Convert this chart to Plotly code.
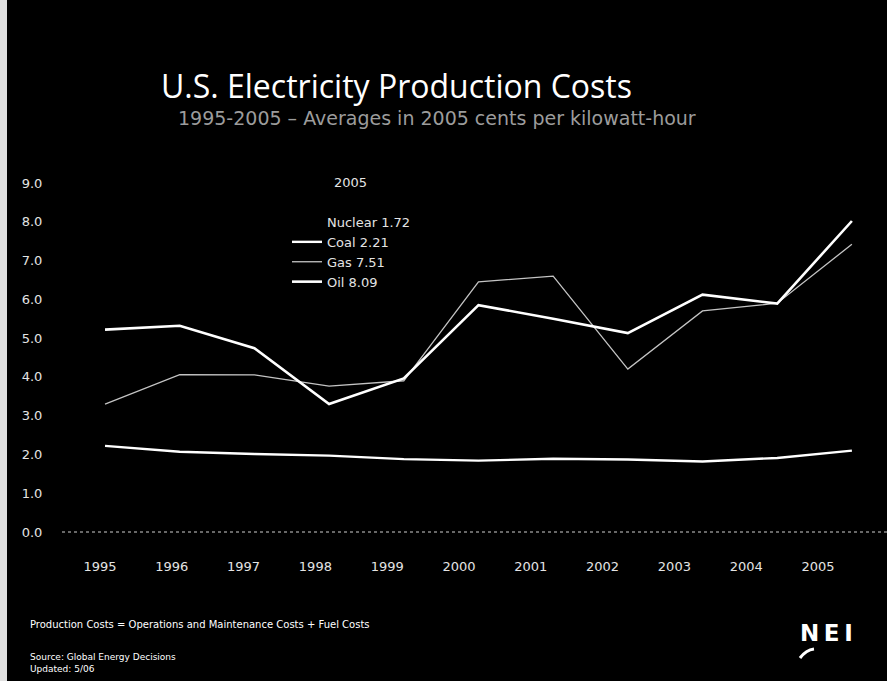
import plotly.graph_objects as go

years = [1995, 1996, 1997, 1998, 1999, 2000, 2001, 2002, 2003, 2004, 2005]
year_labels = [str(y) for y in years]
oil = [5.22, 5.32, 4.74, 3.30, 3.96, 5.85, 5.50, 5.13, 6.12, 5.89, 8.02]
gas = [3.30, 4.06, 4.05, 3.76, 3.90, 6.45, 6.60, 4.20, 5.70, 5.90, 7.42]
coal = [2.22, 2.07, 2.01, 1.97, 1.88, 1.84, 1.89, 1.87, 1.82, 1.91, 2.10]
nuclear_2005 = [1.72]
y_ticks = [0, 1, 2, 3, 4, 5, 6, 7, 8, 9]

legend_names = ["Nuclear 1.72", "Coal 2.21", "Gas 7.51", "Oil 8.09"]

L, T, B, W, H = 62, 170, 136, 825, 375


def px(x):
    return (x - L) / W


def py(y):
    return (T + H - y) / H


fig = go.Figure()
fig.add_trace(go.Scatter(x=[2005], y=nuclear_2005, mode="lines", name=legend_names[0],
                         line=dict(color="black", width=0)))
fig.add_trace(go.Scatter(x=years, y=coal, mode="lines", name=legend_names[1],
                         line=dict(color="white", width=2.4)))
fig.add_trace(go.Scatter(x=years, y=gas, mode="lines", name=legend_names[2],
                         line=dict(color="#c4c4c4", width=1.3)))
fig.add_trace(go.Scatter(x=years, y=oil, mode="lines", name=legend_names[3],
                         line=dict(color="white", width=2.6)))
# empty trace so the label axis is drawn
fig.add_trace(go.Scatter(x=[], y=[], xaxis="x2", showlegend=False, hoverinfo="skip"))

fig.update_layout(
    width=887, height=681,
    paper_bgcolor="black", plot_bgcolor="black",
    margin=dict(l=L, r=0, t=T, b=B),
    font=dict(family="DejaVu Sans", color="white", size=13),
    showlegend=True,
    legend=dict(x=px(287), y=py(207), xanchor="left", yanchor="top",
                bgcolor="rgba(0,0,0,0)", font=dict(size=13, color="#e4e4e4"),
                tracegroupgap=0, itemwidth=30),
    xaxis=dict(range=[1994.424, 2005.47], showgrid=False, zeroline=False,
               showticklabels=False, ticks="", showline=False),
    xaxis2=dict(range=[1994.471, 2005.961], overlaying="x", side="bottom", anchor="y",
                tickmode="array", tickvals=years, ticktext=year_labels,
                showgrid=False, zeroline=False, showline=False,
                ticks="outside", ticklen=9, tickcolor="black",
                tickfont=dict(size=13, color="#e4e4e4")),
    yaxis=dict(range=[-0.335, 9.335], tickmode="array", tickvals=y_ticks,
               tickformat=".1f", showgrid=False, zeroline=False, showline=False,
               ticks="outside", ticklen=16, tickcolor="black",
               tickfont=dict(size=13, color="#e4e4e4")),
)

# dotted baseline at zero
fig.add_shape(type="line", xref="paper", yref="y", x0=0, x1=1, y0=0, y1=0,
              line=dict(color="#cfcfcf", width=1, dash="dot"))
# light strip at the left edge
fig.add_shape(type="rect", xref="paper", yref="paper",
              x0=px(0), x1=px(7), y0=py(681), y1=py(0),
              line=dict(width=0), fillcolor="#e0e0e0", layer="above")
# small swoosh under the logo
fig.add_shape(type="path", xref="paper", yref="paper",
              path=f"M {px(800)},{py(658)} Q {px(806)},{py(650)} {px(814)},{py(649)}",
              line=dict(color="white", width=3))

fig.add_annotation(text="U.S. Electricity Production Costs", xref="paper", yref="paper",
                   x=px(396), y=py(85), xanchor="center", yanchor="middle",
                   showarrow=False, font=dict(family="Open Sans", size=32, color="white"))
fig.add_annotation(text="1995-2005 \u2013 Averages in 2005 cents per kilowatt-hour",
                   xref="paper", yref="paper",
                   x=px(437), y=py(118), xanchor="center", yanchor="middle",
                   showarrow=False, font=dict(family="DejaVu Sans", size=19, color="#9c9c9c"))
fig.add_annotation(text="2005", xref="paper", yref="paper",
                   x=px(332), y=py(183), xanchor="left", yanchor="middle",
                   showarrow=False, font=dict(size=13, color="#e4e4e4"))
fig.add_annotation(text="Production Costs = Operations and Maintenance Costs + Fuel Costs",
                   xref="paper", yref="paper", x=px(28), y=py(624),
                   xanchor="left", yanchor="middle", showarrow=False,
                   font=dict(size=10, color="white"))
fig.add_annotation(text="Source: Global Energy Decisions<br>Updated: 5/06",
                   xref="paper", yref="paper", x=px(28), y=py(650),
                   xanchor="left", yanchor="top", showarrow=False, align="left",
                   font=dict(size=9, color="white"))
fig.add_annotation(text="<b>N\u2009E\u2009I</b>", xref="paper", yref="paper",
                   x=px(826), y=py(633), xanchor="center", yanchor="middle",
                   showarrow=False, font=dict(family="DejaVu Sans", size=23, color="white"))

fig.write_html("out.html")
